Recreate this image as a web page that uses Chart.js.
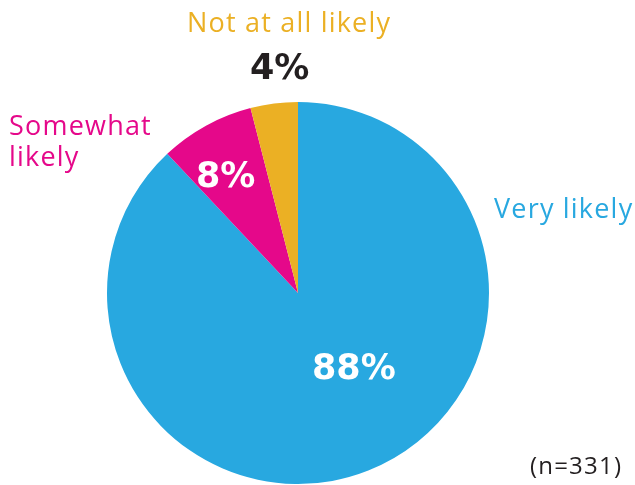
<!DOCTYPE html>
<html>
<head>
<meta charset="utf-8">
<script src="https://cdn.jsdelivr.net/npm/chart.js@4"></script>
<style>
  html, body { margin: 0; padding: 0; background: #ffffff; }
  #wrap { width: 635px; height: 485px; position: relative; }
</style>
</head>
<body>
<div id="wrap"><canvas id="pie-chart" width="635" height="485"></canvas></div>
<script>
// Chart data
const categories = ['Very likely', 'Somewhat likely', 'Not at all likely'];
const percentages = [88, 8, 4];
const sampleNote = '(n=331)';

const colors = [
    '#28a8e0', // Blue
    '#e5088a', // Pink
    '#ebb024'  // Yellow
];

// Draw category names and percentages on top of the pie
const labelPlugin = {
    id: 'pieLabels',
    afterDraw(chart) {
        const ctx = chart.ctx;
        const font = '"Open Sans", "DejaVu Sans", sans-serif';
        const boldFont = '"DejaVu Sans", sans-serif';
        ctx.save();
        ctx.textBaseline = 'alphabetic';
        ctx.textAlign = 'left';

        // category names
        ctx.font = '400 27px ' + font;
        ctx.letterSpacing = '1.2px';
        ctx.fillStyle = colors[2];
        ctx.fillText(categories[2], 187, 32);

        ctx.fillStyle = colors[1];
        ctx.fillText('Somewhat', 9, 135);
        ctx.fillText('likely', 9, 166);

        ctx.fillStyle = colors[0];
        ctx.fillText(categories[0], 494, 218);

        // percentages
        ctx.font = '700 35px ' + boldFont;
        ctx.letterSpacing = '0px';
        ctx.fillStyle = '#231f20';
        ctx.fillText(percentages[2] + '%', 250, 79);
        ctx.fillStyle = '#ffffff';
        ctx.fillText(percentages[1] + '%', 196, 187);
        ctx.fillText(percentages[0] + '%', 312, 379);

        // sample size
        ctx.font = '400 24px ' + font;
        ctx.letterSpacing = '1.2px';
        ctx.fillStyle = '#231f20';
        ctx.fillText(sampleNote, 530, 474);
        ctx.restore();
    }
};

const ctx = document.getElementById('pie-chart').getContext('2d');
const pieChart = new Chart(ctx, {
    type: 'pie',
    data: {
        labels: categories,
        datasets: [{
            data: percentages,
            backgroundColor: colors,
            borderWidth: 0,
            radius: 191
        }]
    },
    options: {
        responsive: false,
        animation: false,
        layout: {
            padding: { left: 0, right: 39, top: 101, bottom: 0 }
        },
        plugins: {
            legend: { display: false },
            tooltip: { enabled: false }
        }
    },
    plugins: [labelPlugin]
});
</script>
</body>
</html>
